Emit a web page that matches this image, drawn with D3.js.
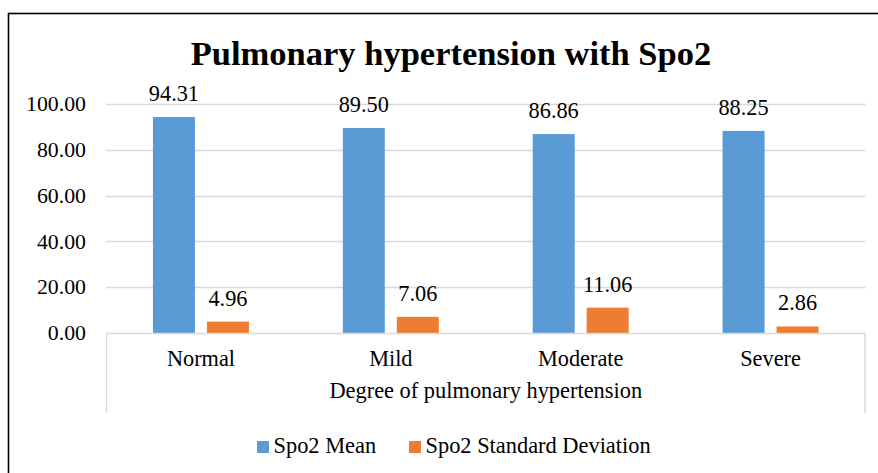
<!DOCTYPE html>
<html>
<head>
<meta charset="utf-8">
<script src="https://cdn.jsdelivr.net/npm/d3@7"></script>
<style>
  html, body { margin: 0; padding: 0; background: #fff; }
  svg { display: block; }
</style>
</head>
<body>
<svg id="chart" width="878" height="473"></svg>
<script>
const categories = ["Normal", "Mild", "Moderate", "Severe"];
const seriesNames = ["Spo2 Mean", "Spo2 Standard Deviation"];
const meanValues = [94.31, 89.50, 86.86, 88.25];
const sdValues = [4.96, 7.06, 11.06, 2.86];
const yTicks = [0, 20, 40, 60, 80, 100];
const colors = ["#5B9BD5", "#ED7D31"];
const titleText = "Pulmonary hypertension with Spo2";
const axisTitle = "Degree of pulmonary hypertension";
const FONT = "'Liberation Serif'";

const svg = d3.select("#chart");
const W = 878, H = 473;

svg.append("rect")
  .attr("x", 8.5).attr("y", 13.5)
  .attr("width", W + 10).attr("height", H + 10)
  .attr("fill", "none").attr("stroke", "#000").attr("stroke-width", 1.6);

const plot = { left: 106, right: 865.5, top: 104, bottom: 333 };

const x = d3.scaleBand().domain(categories).range([plot.left, plot.right]).paddingInner(0).paddingOuter(0);
const y = d3.scaleLinear().domain([0, 100]).range([plot.bottom, plot.top]);

const barW = 42, innerGap = 12;
const groupW = barW * 2 + innerGap;
const sub = d3.scaleOrdinal().domain(seriesNames).range([
  (x.bandwidth() - groupW) / 2,
  (x.bandwidth() - groupW) / 2 + barW + innerGap
]);

function txt(sel) {
  return sel.style("font-family", FONT).attr("fill", "#000");
}

svg.append("g").selectAll("line").data(yTicks.filter(d => d > 0)).join("line")
  .attr("x1", plot.left).attr("x2", plot.right)
  .attr("y1", d => Math.round(y(d)) + 0.5).attr("y2", d => Math.round(y(d)) + 0.5)
  .attr("stroke", "#D9D9D9").attr("stroke-width", 1.5);

txt(svg.append("g").selectAll("text").data(yTicks).join("text"))
  .attr("x", 86).attr("y", d => y(d)).attr("dy", "0.33em")
  .attr("text-anchor", "end").attr("font-size", 21.8)
  .text(d => d.toFixed(2));

const data = categories.map((c, i) => ({ cat: c, vals: [meanValues[i], sdValues[i]] }));

const groups = svg.append("g").selectAll("g").data(data).join("g")
  .attr("transform", d => `translate(${x(d.cat)},0)`);

groups.selectAll("rect").data(d => d.vals.map((v, j) => ({ v, s: seriesNames[j], j }))).join("rect")
  .attr("x", d => sub(d.s)).attr("width", barW)
  .attr("y", d => y(d.v)).attr("height", d => y(0) - y(d.v))
  .attr("fill", d => colors[d.j]);

txt(groups.selectAll("text.lbl").data(d => d.vals.map((v, j) => ({ v, s: seriesNames[j], j }))).join("text"))
  .attr("class", "lbl")
  .attr("x", d => sub(d.s) + barW / 2).attr("y", d => y(d.v) - 16)
  .attr("text-anchor", "middle").attr("font-size", 22.3)
  .text(d => d.v.toFixed(2));

const axisG = svg.append("g").attr("stroke", "#D9D9D9").attr("stroke-width", 1.5).attr("fill", "none");
axisG.append("line").attr("x1", plot.left).attr("x2", plot.right).attr("y1", plot.bottom + 0.5).attr("y2", plot.bottom + 0.5);
axisG.append("line").attr("x1", plot.left + 0.5).attr("x2", plot.left + 0.5).attr("y1", plot.bottom).attr("y2", 413);
axisG.append("line").attr("x1", plot.right - 0.5).attr("x2", plot.right - 0.5).attr("y1", plot.bottom).attr("y2", 413);

txt(svg.append("g").selectAll("text").data(categories).join("text"))
  .attr("x", d => x(d) + x.bandwidth() / 2).attr("y", 366)
  .attr("text-anchor", "middle").attr("font-size", 22.3)
  .text(d => d);

txt(svg.append("text"))
  .attr("x", (plot.left + plot.right) / 2).attr("y", 398)
  .attr("text-anchor", "middle").attr("font-size", 22.4)
  .text(axisTitle);

txt(svg.append("text"))
  .attr("x", 451).attr("y", 64.5)
  .attr("text-anchor", "middle").attr("font-size", 34.5).attr("font-weight", "bold")
  .text(titleText);

const legendItems = [
  { name: seriesNames[0], color: colors[0], x: 257 },
  { name: seriesNames[1], color: colors[1], x: 409 }
];
const lg = svg.append("g").selectAll("g").data(legendItems).join("g")
  .attr("transform", d => `translate(${d.x},441)`);
lg.append("rect").attr("width", 12).attr("height", 12).attr("fill", d => d.color);
txt(lg.append("text")).attr("x", 16.5).attr("y", 12).attr("font-size", 22.4).text(d => d.name);
</script>
</body>
</html>
